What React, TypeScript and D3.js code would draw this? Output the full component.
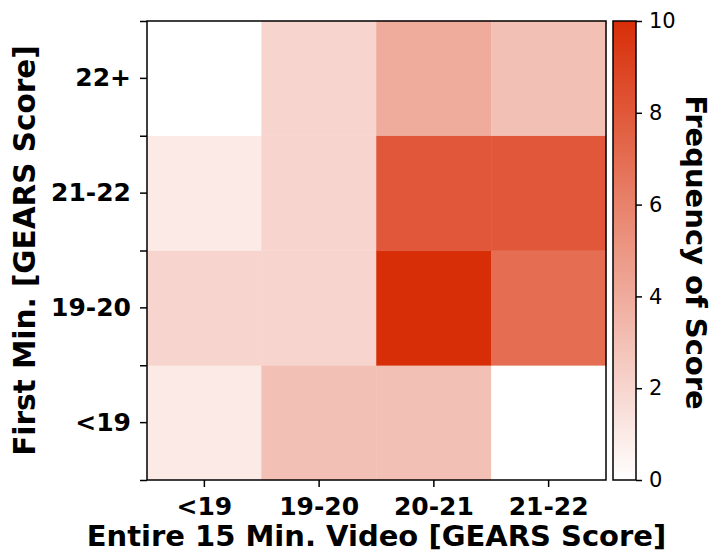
import React, { useEffect, useRef } from "react";
import {
  axisBottom,
  axisLeft,
  axisRight,
  interpolateRgb,
  range,
  scaleBand,
  scaleLinear,
  scaleSequential,
  select,
} from "d3";

// Data: frequency of score per cell
const xCategories = ["<19", "19-20", "20-21", "21-22"];
const yCategories = ["<19", "19-20", "21-22", "22+"]; // bottom to top
const rowUnder19 = [1, 3, 3, 0];
const row19to20 = [2, 2, 10, 7];
const row21to22 = [1, 2, 8, 8];
const row22plus = [0, 2, 4, 3];
const colorTicks = [0, 2, 4, 6, 8, 10];

const xLabel = "Entire 15 Min. Video [GEARS Score]";
const yLabel = "First Min. [GEARS Score]";
const colorLabel = "Frequency of Score";

const App = () => {
  const ref = useRef<SVGSVGElement>(null);

  useEffect(() => {
    const width = 712;
    const height = 554;
    const plot = { left: 147, right: 606, top: 21, bottom: 480 };
    const bar = { left: 613, right: 636 };
    const font = "'DejaVu Sans', sans-serif";

    const svg = select(ref.current!);
    svg.selectAll("*").remove();
    svg.attr("width", width).attr("height", height);

    const rows = [rowUnder19, row19to20, row21to22, row22plus];
    const cells = rows.flatMap((vals, yi) =>
      vals.map((v, xi) => ({ x: xCategories[xi], y: yCategories[yi], v }))
    );

    const x = scaleBand<string>()
      .domain(xCategories)
      .range([plot.left, plot.right]);
    const y = scaleBand<string>()
      .domain(yCategories)
      .range([plot.bottom, plot.top]);
    const color = scaleSequential(interpolateRgb("#ffffff", "#d82e08")).domain([
      0, 10,
    ]);

    // heatmap cells
    svg
      .append("g")
      .selectAll("rect")
      .data(cells)
      .join("rect")
      .attr("x", (d) => x(d.x)!)
      .attr("y", (d) => y(d.y)!)
      .attr("width", x.bandwidth())
      .attr("height", y.bandwidth())
      .attr("fill", (d) => color(d.v))
      .attr("stroke", (d) => color(d.v))
      .attr("stroke-width", 0.5);

    // y minor ticks at cell edges
    const yEdge = scaleLinear()
      .domain([0, yCategories.length])
      .range([plot.bottom, plot.top]);
    svg
      .append("g")
      .attr("transform", `translate(${plot.left},0)`)
      .call(
        axisLeft(yEdge)
          .tickValues(range(0, yCategories.length + 1))
          .tickFormat(() => "")
          .tickSize(7)
          .tickSizeOuter(0)
      )
      .call((g) => g.select(".domain").remove())
      .call((g) => g.selectAll("line").attr("stroke-width", 1.5));

    // y axis
    svg
      .append("g")
      .attr("transform", `translate(${plot.left},0)`)
      .call(axisLeft(y).tickSize(7).tickPadding(9).tickSizeOuter(0))
      .call((g) => g.select(".domain").remove())
      .call((g) => g.selectAll("line").attr("stroke-width", 1.5))
      .call((g) =>
        g
          .selectAll("text")
          .attr("font-family", font)
          .attr("font-weight", "bold")
          .attr("font-size", 25)
          .attr("fill", "#000")
      );

    // x axis
    svg
      .append("g")
      .attr("transform", `translate(0,${plot.bottom})`)
      .call(axisBottom(x).tickSize(7).tickPadding(10).tickSizeOuter(0))
      .call((g) => g.select(".domain").remove())
      .call((g) => g.selectAll("line").attr("stroke-width", 1.5))
      .call((g) =>
        g
          .selectAll("text")
          .attr("font-family", font)
          .attr("font-weight", "bold")
          .attr("font-size", 25)
          .attr("fill", "#000")
      );

    // plot frame
    svg
      .append("rect")
      .attr("x", plot.left)
      .attr("y", plot.top)
      .attr("width", plot.right - plot.left)
      .attr("height", plot.bottom - plot.top)
      .attr("fill", "none")
      .attr("stroke", "#000")
      .attr("stroke-width", 1.5);

    // colorbar
    const defs = svg.append("defs");
    const grad = defs
      .append("linearGradient")
      .attr("id", "cbar")
      .attr("x1", 0)
      .attr("y1", 1)
      .attr("x2", 0)
      .attr("y2", 0);
    range(0, 11).forEach((v) => {
      grad
        .append("stop")
        .attr("offset", `${v * 10}%`)
        .attr("stop-color", color(v));
    });
    svg
      .append("rect")
      .attr("x", bar.left)
      .attr("y", plot.top)
      .attr("width", bar.right - bar.left)
      .attr("height", plot.bottom - plot.top)
      .attr("fill", "url(#cbar)")
      .attr("stroke", "#000")
      .attr("stroke-width", 1.5);

    const cScale = scaleLinear().domain([0, 10]).range([plot.bottom, plot.top]);
    svg
      .append("g")
      .attr("transform", `translate(${bar.right},0)`)
      .call(
        axisRight(cScale)
          .tickValues(colorTicks)
          .tickSize(6)
          .tickPadding(7)
          .tickSizeOuter(0)
      )
      .call((g) => g.select(".domain").remove())
      .call((g) => g.selectAll("line").attr("stroke-width", 1.5))
      .call((g) =>
        g
          .selectAll("text")
          .attr("font-family", font)
          .attr("font-size", 21)
          .attr("fill", "#000")
      );

    // axis labels
    svg
      .append("text")
      .text(xLabel)
      .attr("x", (plot.left + plot.right) / 2)
      .attr("y", 546)
      .attr("text-anchor", "middle")
      .attr("font-family", font)
      .attr("font-weight", "bold")
      .attr("font-size", 29);

    svg
      .append("text")
      .text(yLabel)
      .attr(
        "transform",
        `translate(35,${(plot.top + plot.bottom) / 2}) rotate(-90)`
      )
      .attr("text-anchor", "middle")
      .attr("font-family", font)
      .attr("font-weight", "bold")
      .attr("font-size", 29.5);

    svg
      .append("text")
      .text(colorLabel)
      .attr(
        "transform",
        `translate(686,${(plot.top + plot.bottom) / 2 + 2}) rotate(90)`
      )
      .attr("text-anchor", "middle")
      .attr("font-family", font)
      .attr("font-weight", "bold")
      .attr("font-size", 29);
  }, []);

  return (
    <div style={{ position: "absolute", left: 0, top: 0, background: "#fff" }}>
      <svg ref={ref}></svg>
    </div>
  );
};

export default App;
